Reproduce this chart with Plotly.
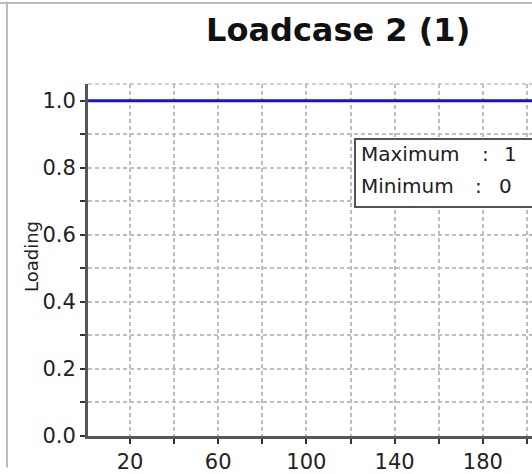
import plotly.graph_objects as go

# Data
steps = list(range(1, 226))
loading = [1.0] * len(steps)

title_text = "Loadcase 2 (1)"
y_title = "Loading"
stat_labels = ["Maximum", "Minimum"]
stat_values = ["1", "0"]

x_range = [0.96, 202.3]
y_range = [0.0, 1.05]

L, T, B, W, H = 88, 84, 32, 532, 474
pw = W - L
ph = H - T - B

def px(xp):
    return (xp - L) / pw

def py(yp):
    return (H - B - yp) / ph

fig = go.Figure()
fig.add_trace(go.Scatter(
    x=steps, y=loading, mode="lines",
    line=dict(color="#1414d2", width=3),
    showlegend=False, hoverinfo="skip",
))

font_family = "DejaVu Sans"
grid_col = "#bdbdbd"
gdash = "4px,3px"

fig.update_layout(
    width=W, height=H,
    margin=dict(l=L, r=0, t=T, b=B, pad=0),
    paper_bgcolor="white", plot_bgcolor="white",
    font=dict(family=font_family, size=21, color="#222"),
    xaxis=dict(
        range=x_range, tick0=20, dtick=40, showline=True, linecolor="#555", linewidth=3,
        ticks="outside", ticklen=5, tickwidth=2, tickcolor="#333",
        showgrid=True, gridcolor=grid_col, griddash=gdash, gridwidth=1.5,
        minor=dict(tick0=0, dtick=20, ticks="outside", ticklen=5, tickwidth=2, tickcolor="#333",
                   showgrid=True, gridcolor=grid_col, griddash=gdash, gridwidth=1.5),
        zeroline=False, tickfont=dict(size=21, color="#222"),
    ),
    yaxis=dict(
        range=y_range, tick0=0, dtick=0.2, tickformat=".1f", showline=True, linecolor="#555", linewidth=3,
        ticks="outside", ticklen=5, tickwidth=2, tickcolor="#333",
        showgrid=True, gridcolor=grid_col, griddash=gdash, gridwidth=1.5,
        minor=dict(tick0=0, dtick=0.1, ticks="outside", ticklen=5, tickwidth=2, tickcolor="#333",
                   showgrid=True, gridcolor=grid_col, griddash=gdash, gridwidth=1.5),
        zeroline=False, tickfont=dict(size=21, color="#222"),
    ),
)

shapes = [
    dict(type="line", xref="paper", yref="paper", x0=0, x1=1, y0=1, y1=1,
         line=dict(color=grid_col, width=1.5, dash=gdash)),
    dict(type="line", xref="paper", yref="paper", x0=px(7), x1=px(7), y0=py(0), y1=py(H),
         line=dict(color="#bbbbbb", width=2)),
    dict(type="line", xref="paper", yref="paper", x0=px(0), x1=px(W), y0=py(1.5), y1=py(1.5),
         line=dict(color="#bbbbbb", width=2)),
    dict(type="rect", xref="paper", yref="paper", x0=px(355), x1=px(560), y0=py(209), y1=py(140),
         fillcolor="white", line=dict(color="#555", width=2), layer="above"),
]
fig.update_layout(shapes=shapes)

ann = [
    dict(text="<b>" + title_text + "</b>", xref="paper", yref="paper", x=px(338), y=py(29),
         xanchor="center", yanchor="middle", showarrow=False, font=dict(size=32, color="#111")),
    dict(text=y_title, xref="paper", yref="paper", x=px(31), y=py(260), textangle=-90,
         xanchor="center", yanchor="middle", showarrow=False, font=dict(size=18, color="#222")),
]
row_y = [155, 188]
colon_x = [485, 478]
val_x = [510, 505]
for lab, val, yy, cx, vx in zip(stat_labels, stat_values, row_y, colon_x, val_x):
    ann.append(dict(text=lab, xref="paper", yref="paper", x=px(359), y=py(yy), xanchor="left",
                    yanchor="middle", showarrow=False, font=dict(size=20, color="#222")))
    ann.append(dict(text=":", xref="paper", yref="paper", x=px(cx), y=py(yy),
                    xanchor="center", yanchor="middle", showarrow=False, font=dict(size=20, color="#222")))
    ann.append(dict(text=val, xref="paper", yref="paper", x=px(vx), y=py(yy),
                    xanchor="center", yanchor="middle", showarrow=False, font=dict(size=20, color="#222")))
fig.update_layout(annotations=ann)

fig.write_html("out.html", config={"displayModeBar": False},
               post_script="document.body.style.margin='0px';document.body.style.overflow='hidden';")
